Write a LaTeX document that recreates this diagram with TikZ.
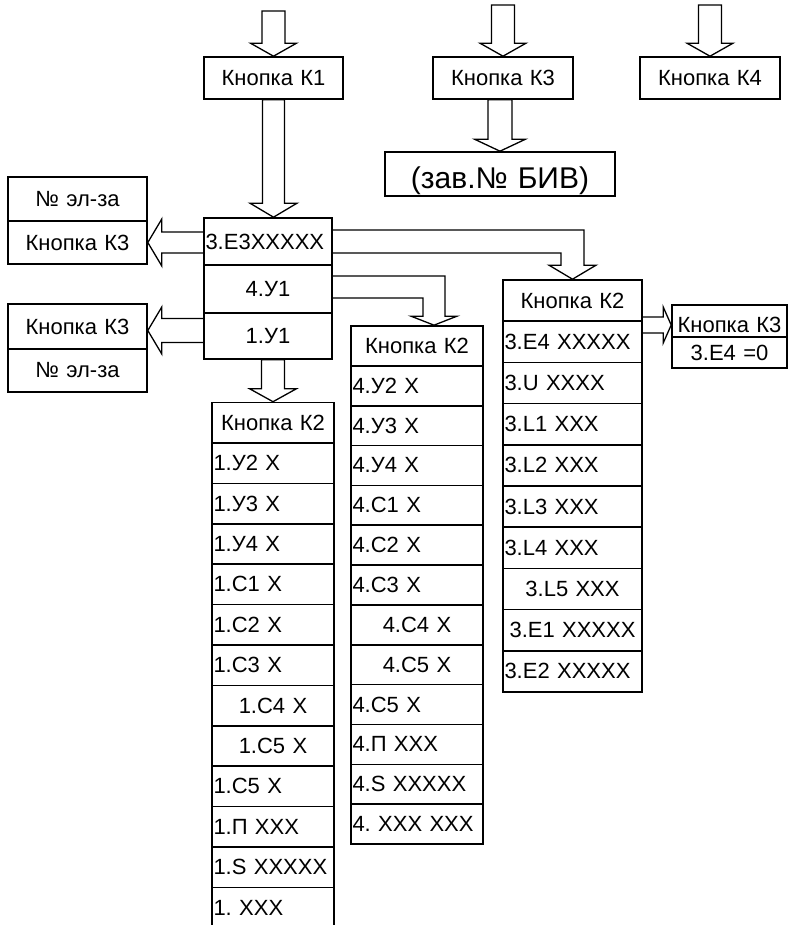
\documentclass[tikz,border=0pt]{standalone}
\usepackage{fontspec}
\setmainfont{Liberation Sans}
\usetikzlibrary{calc}
\frenchspacing

% hollow block arrows: start, tip, shaft half width, head half width, head length
\newcommand{\hollowdown}[5]{\draw[arrowline] let \p1=#1, \p2=#2 in
  (\x2-#3,\y1) -- (\x2-#3,\y2+#5) -- (\x2-#4,\y2+#5) -- (\x2,\y2)
  -- (\x2+#4,\y2+#5) -- (\x2+#3,\y2+#5) -- (\x2+#3,\y1) -- cycle;}
\newcommand{\hollowleft}[5]{\draw[arrowline] let \p1=#1, \p2=#2 in
  (\x1,\y2+#3) -- (\x2+#5,\y2+#3) -- (\x2+#5,\y2+#4) -- (\x2,\y2)
  -- (\x2+#5,\y2-#4) -- (\x2+#5,\y2-#3) -- (\x1,\y2-#3);}
\newcommand{\hollowright}[5]{\draw[arrowline] let \p1=#1, \p2=#2 in
  (\x1,\y2+#3) -- (\x2-#5,\y2+#3) -- (\x2-#5,\y2+#4) -- (\x2,\y2)
  -- (\x2-#5,\y2-#4) -- (\x2-#5,\y2-#3) -- (\x1,\y2-#3);}
\newcommand{\hollowbend}[5]{\draw[arrowline] let \p1=#1, \p2=#2 in
  (\x1,\y1+#3) -- (\x2+#3,\y1+#3) -- (\x2+#3,\y2+#5) -- (\x2+#4,\y2+#5) -- (\x2,\y2)
  -- (\x2-#4,\y2+#5) -- (\x2-#3,\y2+#5) -- (\x2-#3,\y1-#3) -- (\x1,\y1-#3);}

\begin{document}
\begin{tikzpicture}[x=1pt,y=-1pt,
  cell/.style={draw,line width=1.6pt,inner xsep=1.5pt,inner ysep=0pt,align=center,
    font=\fontsize{22}{26}\selectfont},
  lft/.style={align=left},
  keybox/.style={cell,text width=136pt,minimum height=42pt},
  menubox/.style={cell,text width=125pt},
  lcell/.style={cell,text width=119pt,minimum height=40.4pt},
  mcell/.style={cell,text width=129pt,minimum height=39.85pt},
  rcell/.style={cell,text width=136pt,minimum height=41.2pt},
  arrowline/.style={line width=1.3pt,line join=miter}]
\useasboundingbox (0,0) rectangle (792,925);
% top row
\node[keybox] (k1) at (273.5,78) {Кнопка К1};
\node[keybox,text width=137pt] (k3) at (503,78) {Кнопка К3};
\node[keybox,text width=137pt] (k4) at (710,78) {Кнопка К4};
\node[cell,text width=227pt,text height=37pt,text depth=7pt,font=\fontsize{30}{34}\selectfont] (zav) at (500,174) {(зав.№ БИВ)};
\coordinate (k1in) at (273.5,11);
\coordinate (k3in) at (503,5);
\coordinate (k4in) at (710,5);
% menu block
\node[menubox,lft,minimum height=47pt] (e3) at (268,241.5) {3.E3XXXXX};
\node[menubox,minimum height=48pt] (u41) at (268,289) {4.У1};
\node[menubox,minimum height=46pt] (u11) at (268,336) {1.У1};
% left boxes
\node[keybox,minimum height=44pt] (na) at (77.5,199) {№ эл-за};
\node[keybox,minimum height=43pt] (ka) at (77.5,242.5) {Кнопка К3};
\node[keybox,minimum height=45pt] (kb) at (77.5,326.5) {Кнопка К3};
\node[keybox,minimum height=43pt] (nb) at (77.5,370.5) {№ эл-за};
% left column
\node[lcell] (l0) at (273,422.7) {Кнопка К2};
\node[lcell,lft] (l1) at (273,463.1) {1.У2 X};
\node[lcell,lft] (l2) at (273,503.5) {1.У3 X};
\node[lcell,lft] (l3) at (273,543.9) {1.У4 X};
\node[lcell,lft] (l4) at (273,584.3) {1.С1 X};
\node[lcell,lft] (l5) at (273,624.7) {1.С2 X};
\node[lcell,lft] (l6) at (273,665.1) {1.С3 X};
\node[lcell] (l7) at (273,705.5) {1.С4 X};
\node[lcell] (l8) at (273,745.9) {1.С5 X};
\node[lcell,lft] (l9) at (273,786.3) {1.С5 X};
\node[lcell,lft] (l10) at (273,826.7) {1.П XXX};
\node[lcell,lft] (l11) at (273,867.1) {1.S XXXXX};
\node[lcell,lft] (l12) at (273,907.5) {1. XXX};
% middle column
\node[mcell] (m0) at (417,345.9) {Кнопка К2};
\node[mcell,lft] (m1) at (417,385.8) {4.У2 X};
\node[mcell,lft] (m2) at (417,425.6) {4.У3 X};
\node[mcell,lft] (m3) at (417,465.5) {4.У4 X};
\node[mcell,lft] (m4) at (417,505.3) {4.С1 X};
\node[mcell,lft] (m5) at (417,545.2) {4.С2 X};
\node[mcell,lft] (m6) at (417,585.0) {4.С3 X};
\node[mcell] (m7) at (417,624.9) {4.С4 X};
\node[mcell] (m8) at (417,664.7) {4.С5 X};
\node[mcell,lft] (m9) at (417,704.6) {4.С5 X};
\node[mcell,lft] (m10) at (417,744.4) {4.П XXX};
\node[mcell,lft] (m11) at (417,784.3) {4.S XXXXX};
\node[mcell,lft] (m12) at (417,824.1) {4. XXX XXX};
% right column
\node[rcell] (r0) at (572.5,300.6) {Кнопка К2};
\node[rcell,lft] (r1) at (572.5,341.8) {3.E4 XXXXX};
\node[rcell,lft] (r2) at (572.5,383) {3.U XXXX};
\node[rcell,lft] (r3) at (572.5,424.2) {3.L1 XXX};
\node[rcell,lft] (r4) at (572.5,465.4) {3.L2 XXX};
\node[rcell,lft] (r5) at (572.5,506.6) {3.L3 XXX};
\node[rcell,lft] (r6) at (572.5,547.8) {3.L4 XXX};
\node[rcell] (r7) at (572.5,589) {3.L5 XXX};
\node[rcell] (r8) at (572.5,630.2) {3.E1 XXXXX};
\node[rcell,lft] (r9) at (572.5,671.4) {3.E2 XXXXX};
% reset box
\node[cell,text width=112pt,text height=27pt,text depth=5pt] (sk3) at (729.5,321) {Кнопка К3};
\node[cell,text width=112pt,minimum height=31pt] (sz) at (729.5,352.5) {3.E4 =0};
% arrows
\hollowdown{(k1in)}{(k1.north)}{11.5pt}{23pt}{13pt}
\hollowdown{(k3in)}{(k3.north)}{11.5pt}{23pt}{13pt}
\hollowdown{(k4in)}{(k4.north)}{11.5pt}{23pt}{13pt}
\hollowdown{(k1.south)}{(k1.south |- e3.north)}{11pt}{23.5pt}{14pt}
\hollowdown{(k3.south)}{(zav.north)}{12pt}{25.5pt}{12pt}
\hollowdown{(u11.south)}{(l0.north)}{11.5pt}{23.5pt}{13pt}
\hollowleft{(e3.west)}{(ka.east)}{10.5pt}{23.5pt}{14pt}
\hollowleft{(u11.west)}{($(kb.east)+(0,4)$)}{12pt}{23.5pt}{14pt}
\hollowbend{(e3.east)}{(r0.north)}{11.5pt}{23.5pt}{14pt}
\hollowbend{($(u41.east)+(0,-2)$)}{($(m0.north)+(17,0)$)}{11pt}{23pt}{9pt}
\hollowright{(r1.east)}{($(sk3.west)+(0,4)$)}{8pt}{18pt}{8pt}
\end{tikzpicture}
\end{document}
